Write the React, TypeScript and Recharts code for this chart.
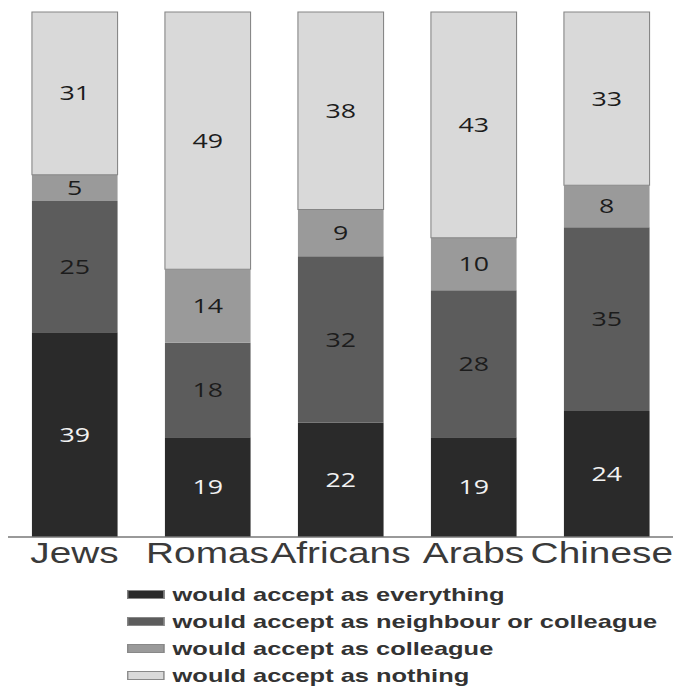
import React from 'react';
import { BarChart, Bar, XAxis, YAxis, LabelList, Legend } from 'recharts';

const categories = ['Jews', 'Romas', 'Africans', 'Arabs', 'Chinese'];
const everything = [39, 19, 22, 19, 24];
const neighbour = [25, 18, 32, 28, 35];
const colleague = [5, 14, 9, 10, 8];
const nothing = [31, 49, 38, 43, 33];

const seriesNames = {
  everything: 'would accept as everything',
  neighbour: 'would accept as neighbour or colleague',
  colleague: 'would accept as colleague',
  nothing: 'would accept as nothing',
};

const colors = {
  everything: '#2a2a2a',
  neighbour: '#5c5c5c',
  colleague: '#9a9a9a',
  nothing: '#d9d9d9',
};

const data = categories.map((name, i) => ({
  name,
  everything: everything[i],
  neighbour: neighbour[i],
  colleague: colleague[i],
  nothing: nothing[i],
}));

const SX = 1.338;
const W = 497;
const H = 678;

const labelStyle = { fontFamily: '"Open Sans", sans-serif', fontSize: 20 };

const AxisTick = (props: any) => {
  const { x, y, payload, index } = props;
  const last = index === categories.length - 1;
  const half = W / categories.length / 2;
  return (
    <text
      x={last ? x + half : x}
      y={y}
      dy="0.71em"
      textAnchor={last ? 'end' : 'middle'}
      fill="#3a3a3a"
      fontSize={29}
      fontFamily='"Liberation Sans", Arial, sans-serif'
    >
      {payload.value}
    </text>
  );
};

const LegendContent = (props: any) => {
  const { payload } = props;
  const order = ['everything', 'neighbour', 'colleague', 'nothing'];
  const items = order
    .map((k) => (payload || []).find((p: any) => p.dataKey === k))
    .filter(Boolean);
  return (
    <div>
      {items.map((p: any) => (
        <div
          key={p.dataKey}
          style={{
            display: 'flex',
            alignItems: 'center',
            height: 27,
            fontFamily: '"Liberation Sans", Arial, sans-serif',
            fontWeight: 'bold',
            fontSize: 19,
            color: '#333',
            whiteSpace: 'nowrap',
          }}
        >
          <span
            style={{
              display: 'inline-block',
              width: 28,
              height: 9,
              background: p.color,
              border: '1px solid #888',
              boxSizing: 'border-box',
              marginRight: 6,
            }}
          />
          {p.value}
        </div>
      ))}
    </div>
  );
};

export default function App() {
  return (
    <div
      style={{
        position: 'fixed',
        left: 0,
        top: 0,
        width: 674,
        height: 686,
        overflow: 'hidden',
        background: '#fff',
      }}
    >
      <div
        style={{
          position: 'absolute',
          left: 8,
          top: 8,
          width: W,
          transform: `scaleX(${SX})`,
          transformOrigin: '0 0',
        }}
      >
        <BarChart
          width={W}
          height={H}
          data={data}
          stackOffset="expand"
          barCategoryGap="18%"
          margin={{ top: 4, right: 0, bottom: 119, left: 0 }}
        >
          <XAxis
            dataKey="name"
            interval={0}
            tickLine={false}
            tickSize={5}
            tickMargin={0}
            axisLine={{ stroke: '#777', strokeWidth: 1.5 }}
            tick={<AxisTick />}
          />
          <YAxis hide domain={[0, 1]} />
          <Legend
            layout="horizontal"
            verticalAlign="middle"
            align="center"
            content={<LegendContent />}
            wrapperStyle={{ top: 573, left: 89, width: 400, height: 108 }}
          />
          <Bar dataKey="everything" name={seriesNames.everything} stackId="a" fill={colors.everything} isAnimationActive={false}>
            <LabelList dataKey="everything" position="center" fill="#f2f2f2" style={labelStyle} />
          </Bar>
          <Bar dataKey="neighbour" name={seriesNames.neighbour} stackId="a" fill={colors.neighbour} isAnimationActive={false}>
            <LabelList dataKey="neighbour" position="center" fill="#1c1c1c" style={labelStyle} />
          </Bar>
          <Bar dataKey="colleague" name={seriesNames.colleague} stackId="a" fill={colors.colleague} isAnimationActive={false}>
            <LabelList dataKey="colleague" position="center" fill="#1c1c1c" style={labelStyle} />
          </Bar>
          <Bar dataKey="nothing" name={seriesNames.nothing} stackId="a" fill={colors.nothing} stroke="#858585" strokeWidth={0.8} isAnimationActive={false}>
            <LabelList dataKey="nothing" position="center" fill="#1c1c1c" style={labelStyle} />
          </Bar>
        </BarChart>
      </div>
    </div>
  );
}
